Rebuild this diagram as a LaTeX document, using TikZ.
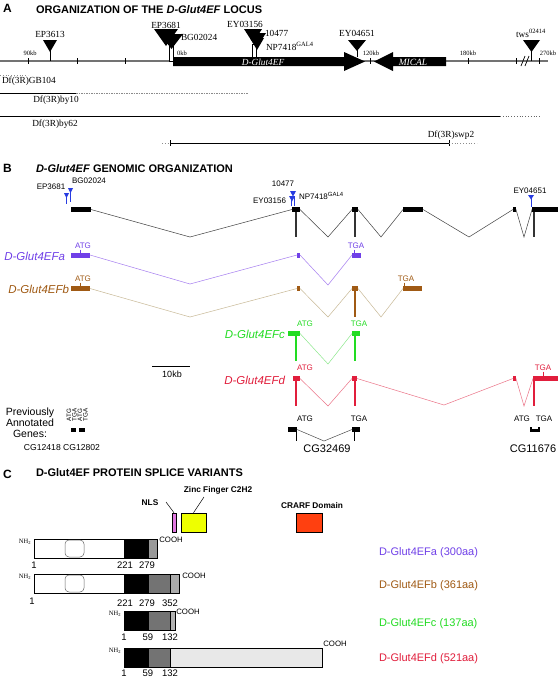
\documentclass[tikz,border=0pt]{standalone}
\usepackage{fontspec}
\setmainfont{Liberation Serif}
\setsansfont{Liberation Sans}
\definecolor{cpur}{RGB}{112,64,232}
\definecolor{cpurl}{RGB}{165,125,240}
\definecolor{cbrn}{RGB}{160,90,20}
\definecolor{cbrnl}{RGB}{200,185,150}
\definecolor{cgrn}{RGB}{34,220,34}
\definecolor{cgrnl}{RGB}{140,232,140}
\definecolor{cred}{RGB}{225,30,60}
\definecolor{credl}{RGB}{235,115,135}
\definecolor{cblu}{RGB}{40,60,225}
\definecolor{cpink}{RGB}{225,120,225}
\definecolor{cyel}{RGB}{238,255,0}
\definecolor{corg}{RGB}{255,64,16}
\tikzset{
  lbl/.style={inner sep=0pt, outer sep=0pt},
  tA/.style={lbl, font=\fontsize{9.3}{10}\selectfont},
  tkb/.style={lbl, font=\fontsize{6.5}{7}\selectfont},
  ttl/.style={lbl, anchor=west, font=\sffamily\bfseries\fontsize{11}{12}\selectfont},
  tB/.style={lbl, font=\sffamily\fontsize{8}{9}\selectfont},
  tV/.style={lbl, anchor=east, font=\sffamily\itshape\fontsize{11.5}{12}\selectfont},
  tN/.style={lbl, font=\sffamily\fontsize{9.5}{10}\selectfont},
  tR/.style={lbl, anchor=west, font=\sffamily\fontsize{11}{12}\selectfont},
  tD/.style={lbl, font=\sffamily\bfseries\fontsize{8.3}{9}\selectfont},
  tH/.style={lbl, font=\fontsize{6.5}{7}\selectfont},
  tC/.style={lbl, font=\sffamily\fontsize{7.8}{8}\selectfont},
  exonbox/.style={draw=none, inner sep=0pt, outer sep=0pt, rectangle},
  intron/.style={line width=0.5pt},
  vbar/.style={line width=1.1pt},
  stemrect/.style={draw=black, fill=white, line width=0.5pt},
  seg/.style={draw=black, line width=0.5pt},
}
\newcommand\exn[6]{\node[exonbox,fill=#6,minimum width={(#3-#2)*1pt},minimum height={#5*1pt}] (#1) at ({(#2+#3)/2},#4) {};}
\newcommand\trid[4]{\fill (#1,#2) -- (#3,#2) -- ({(#1+#3)/2},#4) -- cycle;}
\newcommand\btrid[4]{\fill[cblu] (#1,#2) -- (#3,#2) -- ({(#1+#3)/2},#4) -- cycle;}
\begin{document}
\begin{tikzpicture}[x=1pt,y=-1pt]
\useasboundingbox (0,0) rectangle (558,678);
\fill[white] (0,0) rectangle (558,678);

% ================= PANEL A =================
\node[ttl, font=\sffamily\bfseries\fontsize{12}{13}\selectfont] (labA) at (3,8) {A};
\node[ttl] (titA) at (36,10) {ORGANIZATION OF THE \textit{D-Glut4EF} LOCUS};
\draw[line width=1.5pt, black!55] (0,61) -- (548,61);
\foreach \x in {28,77,125,174,370,468,516,539} \draw[line width=0.8pt] (\x,58) -- (\x,64);
\draw[line width=0.7pt] (521,66) -- (525,56) (525,66) -- (529,56);
\node[tkb] (k90) at (30,53) {90kb};
\node[tkb, anchor=west] (k0) at (177,53) {0kb};
\node[tkb] (k120) at (371,53) {120kb};
\node[tkb] (k180) at (468,53) {180kb};
\node[tkb] (k270) at (548,53) {270kb};
% gene arrows
\fill (173,57) -- (344,57) -- (344,52) -- (365,61.5) -- (344,71) -- (344,66) -- (173,66) -- cycle;
\node[lbl, text=white, font=\itshape\fontsize{9.3}{10}\selectfont] (gA) at (263,62) {D-Glut4EF};
\fill (446,57) -- (393,57) -- (393,52) -- (374,61.5) -- (393,71) -- (393,66) -- (446,66) -- cycle;
\node[lbl, text=white, font=\itshape\fontsize{9.5}{10}\selectfont] (gM) at (413,62) {MICAL};
% transposons
\draw[line width=0.8pt] (50,50) -- (50,61);
\trid{43}{40}{57}{52}
\draw[stemrect] (169.5,46) rectangle (173.5,61);
\trid{154}{29}{178}{46}
\trid{160}{34}{183}{49}
\draw[stemrect] (252,44) rectangle (256.5,57);
\trid{244}{29}{262}{43}
\trid{248}{33}{266}{47}
\trid{250}{38}{264}{50}
\draw[line width=0.8pt] (357,50) -- (357,57);
\trid{348}{40}{366}{51}
\draw[line width=0.8pt] (531,50) -- (531,61);
\trid{523}{40}{540}{52}
\node[tA] (tEP3613) at (50,34) {EP3613};
\node[tA] (tEP3681) at (166,25) {EP3681};
\node[tA, anchor=west] (tBG) at (181,37) {BG02024};
\node[tA] (tEY03) at (245,24) {EY03156};
\node[tA, anchor=west] (t104) at (265,33) {10477};
\node[tA, anchor=west] (tNP) at (266,46) {NP7418\textsuperscript{GAL4}};
\node[tA] (tEY04) at (357,33) {EY04651};
\node[tA] (ttws) at (531,33) {tws\textsuperscript{02414}};
% deficiencies
\draw[black!45, dotted, line width=0.8pt] (0,75) -- (28,75);
\node[tA, anchor=west] (dGB) at (2,81) {Df(3R)GB104};
\draw[line width=0.8pt] (0,93) -- (76,93);
\draw[black!45, dash pattern=on 1.5pt off 1pt, line width=0.5pt] (76,93) -- (248,93);
\node[tA] (dby10) at (56,100) {Df(3R)by10};
\draw[line width=0.8pt] (0,116) -- (500,116);
\draw[black!60, dotted, line width=0.8pt] (500,116) -- (540,116);
\node[tA] (dby62) at (55,124) {Df(3R)by62};
\draw[black!45, dotted, line width=0.8pt] (162,143) -- (170,143);
\draw[line width=0.8pt] (170,143) -- (449,143);
\draw[line width=0.6pt] (170,140) -- (170,146) (449,140) -- (449,146);
\draw[black!45, dotted, line width=0.8pt] (449,143) -- (477,143);
\node[tA] (dswp) at (451,135) {Df(3R)swp2};

% ================= PANEL B =================
\node[ttl, font=\sffamily\bfseries\fontsize{12}{13}\selectfont] (labB) at (3,168) {B};
\node[ttl] (titB) at (36,169) {\textit{D-Glut4EF} GENOMIC ORGANIZATION};
% blue insertions
\draw[cblu, line width=0.7pt] (66.5,195) -- (66.5,204);
\btrid{64}{193}{69}{198}
\draw[cblu, line width=0.7pt] (70.5,190) -- (70.5,202);
\btrid{68}{188}{73}{193}
\draw[cblu, line width=0.6pt] (291,196) -- (291,206) (294,196) -- (294,206);
\btrid{290}{191}{296}{196.5}
\btrid{289}{196}{295}{201.5}
\draw[cblu, line width=0.7pt] (531,197) -- (531,207);
\btrid{528}{195}{534}{199.5}
\node[tB] (bEP) at (51,187) {EP3681};
\node[tB] (bBG) at (89,181) {BG02024};
\node[tB] (b104) at (283,184) {10477};
\node[tB, anchor=east] (bEY03) at (286,201) {EY03156};
\node[tB, anchor=west] (bNP) at (299,196) {NP7418\textsuperscript{GAL4}};
\node[tB] (bEY04) at (530,191) {EY04651};
% genomic exons
\exn{g1}{71}{91}{209.5}{5}{black}
\exn{g2}{292}{300}{209.5}{5}{black}
\exn{g3}{352}{358}{209.5}{5}{black}
\exn{g4}{403}{423}{209.5}{5}{black}
\exn{g5}{513}{516}{209.5}{5}{black}
\exn{g6}{532}{558}{209.5}{5}{black}
\coordinate (gv1) at (190,237);
\coordinate (gv2) at (328,237);
\coordinate (gv3) at (381,237);
\coordinate (gv4) at (469,237);
\coordinate (gv5) at (524,237);
\draw[intron, black!75] (g1.east) -- (gv1) -- (g2.west);
\draw[intron, black!75] (g2.east) -- (gv2) -- (g3.west);
\draw[intron, black!75] (g3.east) -- (gv3) -- (g4.west);
\draw[intron, black!75] (g4.east) -- (gv4) -- (g5.west);
\draw[intron, black!75] (g5.east) -- (gv5) -- (g6.west);
\draw[vbar, black!80] (296,212) -- (296,237) (355,212) -- (355,237) (534,212) -- (534,237);
% variant a
\node[tV, text=cpur] (va) at (65,256) {D-Glut4EFa};
\exn{a1}{71}{90}{255}{5}{cpur}
\exn{a2}{297}{300}{255}{5}{cpur}
\exn{a3}{352}{361}{255}{5}{cpur}
\coordinate (av1) at (190,284);
\coordinate (av2) at (328,285);
\draw[intron, cpurl] (a1.east) -- (av1) -- (a2.west);
\draw[intron, cpurl] (a2.east) -- (av2) -- (a3.west);
\node[tB, text=cpur] (aATG) at (83,246) {ATG};
\node[tB, text=cpur] (aTGA) at (356,246) {TGA};
\draw[cpur, line width=0.5pt] (80,249.5) -- (a1.north -| 80,0);
\draw[cpur, line width=0.5pt] (354,249.5) -- (a3.north -| 354,0);
% variant b
\node[tV, text=cbrn] (vb) at (69,289) {D-Glut4EFb};
\exn{b1}{71}{90}{288.5}{5}{cbrn}
\exn{b2}{297}{300}{288.5}{5}{cbrn}
\exn{b3}{352}{358}{288.5}{5}{cbrn}
\exn{b4}{403}{422}{288.5}{5}{cbrn}
\coordinate (bv1) at (190,317);
\coordinate (bv2) at (328,317);
\coordinate (bv3) at (381,317);
\draw[intron, cbrnl] (b1.east) -- (bv1) -- (b2.west);
\draw[intron, cbrnl] (b2.east) -- (bv2) -- (b3.west);
\draw[intron, cbrnl] (b3.east) -- (bv3) -- (b4.west);
\draw[vbar, cbrn] (355,291) -- (355,317);
\node[tB, text=cbrn] (bATG) at (83,279) {ATG};
\node[tB, text=cbrn] (bTGA) at (406,279) {TGA};
\draw[cbrn, line width=0.5pt] (80,282.5) -- (b1.north -| 80,0);
\draw[cbrn, line width=0.5pt] (404,282.5) -- (b4.north -| 404,0);
% variant c
\node[tV, text=cgrn] (vc) at (285,334) {D-Glut4EFc};
\exn{c1}{288}{300}{333.5}{5}{cgrn}
\exn{c2}{352}{360}{333.5}{5}{cgrn}
\coordinate (cv1) at (328,364);
\draw[intron, cgrnl] (c1.east) -- (cv1) -- (c2.west);
\draw[vbar, cgrn] (296,336) -- (296,361) (355,336) -- (355,361);
\node[tB, text=cgrn] (cATG) at (305,324) {ATG};
\node[tB, text=cgrn] (cTGA) at (359,324) {TGA};
% scale bar
\draw[line width=0.7pt] (152,366) -- (190,366);
\node[lbl, font=\sffamily\fontsize{9}{10}\selectfont] (scl) at (172,374) {10kb};
% variant d
\node[tV, text=cred] (vd) at (285,380) {D-Glut4EFd};
\exn{d1}{293}{300}{378.5}{5}{cred}
\exn{d2}{352}{357}{378.5}{5}{cred}
\exn{d3}{513}{516}{378.5}{5}{cred}
\exn{d4}{533}{558}{378.5}{5}{cred}
\coordinate (dv1) at (328,406);
\coordinate (dv2) at (444,405);
\coordinate (dv3) at (524,406);
\draw[intron, credl] (d1.east) -- (dv1) -- (d2.west);
\draw[intron, credl] (d2.east) -- (dv2) -- (d3.west);
\draw[intron, credl] (d3.east) -- (dv3) -- (d4.west);
\draw[vbar, cred] (296,381) -- (296,406) (355,381) -- (355,406) (534,381) -- (534,406);
\node[tB, text=cred] (dATG) at (305,368) {ATG};
\node[tB, text=cred] (dTGA) at (543,368) {TGA};
\draw[cred, line width=0.5pt] (543,371.5) -- (d4.north -| 543,0);
% previously annotated genes
\node[lbl, align=center, font=\sffamily\fontsize{10.5}{11}\selectfont] (prev) at (30,423) {Previously\\Annotated\\Genes:};
\exn{p1}{71}{76}{430}{4}{black}
\exn{p2}{79}{85}{430}{4}{black}
\node[lbl, rotate=90, font=\sffamily\fontsize{6.3}{7}\selectfont] (p1a) at (69,415) {ATG};
\node[lbl, rotate=90, font=\sffamily\fontsize{6.3}{7}\selectfont] (p1b) at (74.5,415) {TGA};
\node[lbl, rotate=90, font=\sffamily\fontsize{6.3}{7}\selectfont] (p2a) at (80,415) {ATG};
\node[lbl, rotate=90, font=\sffamily\fontsize{6.3}{7}\selectfont] (p2b) at (85.5,415) {TGA};
\node[lbl, font=\sffamily\fontsize{8.6}{9}\selectfont] (cg1) at (62,448) {CG12418 CG12802};
\exn{q1}{288}{297}{429.5}{5}{black}
\exn{q2}{352}{360}{429.5}{5}{black}
\coordinate (qv) at (324,441);
\draw[intron, black!70] (q1.east) -- (qv) -- (q2.west);
\draw[line width=0.9pt] (296,432) -- (296,441) (354,432) -- (354,441);
\node[tB] (qATG) at (305,419) {ATG};
\node[tB] (qTGA) at (359,419) {TGA};
\node[lbl, font=\sffamily\fontsize{11}{12}\selectfont] (cg3) at (327,449) {CG32469};
\exn{r1}{530}{540}{429.5}{5}{black}
\fill[white] (532,427) rectangle (538,429);
\node[tB] (rATG) at (522,419) {ATG};
\node[tB] (rTGA) at (544,419) {TGA};
\node[lbl, font=\sffamily\fontsize{11}{12}\selectfont] (cg4) at (533,449) {CG11676};

% ================= PANEL C =================
\node[ttl, font=\sffamily\bfseries\fontsize{12}{13}\selectfont] (labC) at (3,474) {C};
\node[ttl] (titC) at (36,473) {D-Glut4EF PROTEIN SPLICE VARIANTS};
% legend
\node[seg, fill=cpink, inner sep=0pt, minimum width=4pt, minimum height=19pt] (nls) at (174,522.5) {};
\node[seg, fill=cyel, inner sep=0pt, minimum width=25pt, minimum height=19pt] (znf) at (193.5,522.5) {};
\node[seg, fill=corg, inner sep=0pt, minimum width=26pt, minimum height=19pt] (crf) at (309,522.5) {};
\node[tD] (tnls) at (150,503) {NLS};
\node[tD] (tznf) at (218,490) {Zinc Finger C2H2};
\node[tD] (tcrf) at (312,506) {CRARF Domain};
\coordinate (lnls) at (166,502);
\coordinate (lznf) at (204,497);
\draw[line width=0.5pt] (lnls) -- (nls.north);
\draw[line width=0.5pt] (lznf) -- (znf.north);
% protein a
\draw[seg, fill=white] (34,539) rectangle (124,558);
\draw[black!60, line width=0.5pt, rounded corners=4pt] (65,540) rectangle (84,557);
\draw[seg, fill=black] (124,539) rectangle (148,558);
\draw[seg, fill=black!40] (148,539) rectangle (157,558);
\node[tH] (nha) at (25,542) {NH\textsubscript{2}};
\node[tC] (cooa) at (171,540) {COOH};
\node[tN] (na1) at (34,565) {1};
\node[tN] (na2) at (125,565) {221};
\node[tN] (na3) at (147,565) {279};
% protein b
\draw[seg, fill=white] (34,574) rectangle (124,593);
\draw[black!60, line width=0.5pt, rounded corners=4pt] (65,575) rectangle (84,592);
\draw[seg, fill=black] (124,574) rectangle (148,593);
\draw[seg, fill=black!55] (148,574) rectangle (170,593);
\draw[seg, fill=black!33] (170,574) rectangle (179,593);
\node[tH] (nhb) at (25,577) {NH\textsubscript{2}};
\node[tC] (coob) at (194,576) {COOH};
\node[tN] (nb1) at (32,601) {1};
\node[tN] (nb2) at (125,603) {221};
\node[tN] (nb3) at (147,603) {279};
\node[tN] (nb4) at (170,603) {352};
% protein c
\draw[seg, fill=black] (124,611) rectangle (148,630);
\draw[seg, fill=black!55] (148,611) rectangle (170,630);
\draw[seg, fill=black!30] (170,611) rectangle (175,630);
\node[tH] (nhc) at (115,614) {NH\textsubscript{2}};
\node[tC] (cooc) at (188,612) {COOH};
\node[tN] (nc1) at (124,637) {1};
\node[tN] (nc2) at (148,637) {59};
\node[tN] (nc3) at (170,637) {132};
% protein d
\draw[seg, fill=black] (124,648) rectangle (148,667);
\draw[seg, fill=black!55] (148,648) rectangle (170,667);
\draw[seg, fill=black!9] (170,648) rectangle (322,667);
\node[tH] (nhd) at (115,651) {NH\textsubscript{2}};
\node[tC] (cood) at (335,644) {COOH};
\node[tN] (nd1) at (124,673) {1};
\node[tN] (nd2) at (148,673) {59};
\node[tN] (nd3) at (170,673) {132};
% right labels
\node[tR, text=cpur] (ra) at (379,553) {D-Glut4EFa (300aa)};
\node[tR, text=cbrn] (rb) at (379,586) {D-Glut4EFb (361aa)};
\node[tR, text=cgrn] (rc) at (379,624) {D-Glut4EFc (137aa)};
\node[tR, text=cred] (rd) at (379,659) {D-Glut4EFd (521aa)};
\end{tikzpicture}
\end{document}
